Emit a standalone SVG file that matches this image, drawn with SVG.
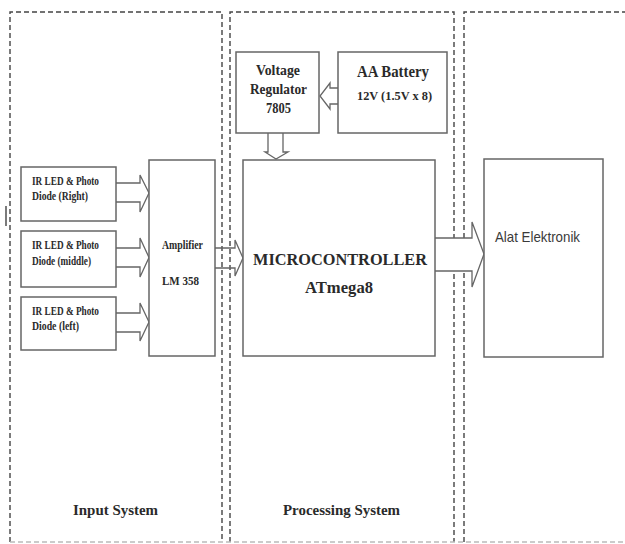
<svg xmlns="http://www.w3.org/2000/svg" width="625" height="544" viewBox="0 0 625 544">
<style>
.panel{fill:none;stroke:#444;stroke-width:1.4;stroke-dasharray:5 3}
.box{fill:#fff;stroke:#666;stroke-width:1.5}
.arr{fill:#fff;stroke:#666;stroke-width:1.3;stroke-linejoin:miter}
.t{font-family:"Liberation Serif","Times New Roman",serif;font-weight:bold;fill:#2a2a2a}
.s{font-family:"Liberation Sans",Arial,sans-serif;fill:#3a3a3a}
.ir{font-size:11.5px}
</style>
<rect width="625" height="544" fill="#fff"/>
<g id="panels">
<path class="panel" d="M10,542 V12 H222 V542"/>
<path class="panel" d="M230,542 V12 H454 V542"/>
<path class="panel" d="M464,542 V12 H625"/>
<path class="panel" d="M10,542 H625" style="stroke:#bbb"/>
<line x1="6" y1="206" x2="6" y2="226" stroke="#222" stroke-width="1.2"/>
</g>
<g id="connectors">
<path class="arr" d="M116,183 H140 V175 L149,193 L140,212 V202 H116"/>
<path class="arr" d="M116,248 H140 V238 L149,257.5 L140,277 V267 H116"/>
<path class="arr" d="M116,313 H140 V303 L149,322 L140,341 V332 H116"/>
<path class="arr" style="fill:none" d="M215,248 H235 V240 L243,258 L235,276 V268 H215"/>
<path class="arr" d="M435,238 H472 V222 L484,254 L472,287 V271 H435"/>
<path class="arr" d="M338,88 H330 V83 L320,96 L330,109 V104 H338"/>
<path class="arr" d="M268,133 V152 H265 L276,159 L288,152 H283 V133"/>
</g>
<g id="ir-right">
<rect class="box" x="21" y="167" width="95" height="54"/>
<text class="t ir" x="32" y="185" textLength="67" lengthAdjust="spacingAndGlyphs">IR LED &amp; Photo</text>
<text class="t ir" x="32" y="200" textLength="56" lengthAdjust="spacingAndGlyphs">Diode (Right)</text>
</g>
<g id="ir-middle">
<rect class="box" x="21" y="231" width="95" height="56"/>
<text class="t ir" x="32" y="249" textLength="67" lengthAdjust="spacingAndGlyphs">IR LED &amp; Photo</text>
<text class="t ir" x="32" y="265" textLength="59" lengthAdjust="spacingAndGlyphs">Diode (middle)</text>
</g>
<g id="ir-left">
<rect class="box" x="21" y="297" width="95" height="53"/>
<text class="t ir" x="32" y="315" textLength="67" lengthAdjust="spacingAndGlyphs">IR LED &amp; Photo</text>
<text class="t ir" x="32" y="330" textLength="47" lengthAdjust="spacingAndGlyphs">Diode (left)</text>
</g>
<g id="amplifier">
<rect class="box" x="149" y="160" width="66" height="196"/>
<text class="t" x="162" y="249" font-size="12" textLength="41" lengthAdjust="spacingAndGlyphs">Amplifier</text>
<text class="t" x="162" y="285" font-size="12" textLength="37" lengthAdjust="spacingAndGlyphs">LM 358</text>
</g>
<g id="regulator">
<rect class="box" x="236" y="52" width="83" height="81"/>
<text class="t" x="256" y="75" font-size="14" textLength="44" lengthAdjust="spacingAndGlyphs">Voltage</text>
<text class="t" x="250" y="94" font-size="14" textLength="57" lengthAdjust="spacingAndGlyphs">Regulator</text>
<text class="t" x="266" y="113" font-size="14" textLength="25" lengthAdjust="spacingAndGlyphs">7805</text>
</g>
<g id="battery">
<rect class="box" x="338" y="52" width="109" height="81"/>
<text class="t" x="357" y="77" font-size="16" textLength="72" lengthAdjust="spacingAndGlyphs">AA Battery</text>
<text class="t" x="357" y="100" font-size="13.5" textLength="75" lengthAdjust="spacingAndGlyphs">12V (1.5V x 8)</text>
</g>
<g id="microcontroller">
<rect class="box" x="243" y="160" width="192" height="196"/>
<text class="t" x="253" y="265" font-size="17" textLength="174" lengthAdjust="spacingAndGlyphs">MICROCONTROLLER</text>
<text class="t" x="305" y="293" font-size="17" textLength="68" lengthAdjust="spacingAndGlyphs">ATmega8</text>
</g>
<g id="alat">
<rect class="box" x="484" y="159" width="119" height="198"/>
<text class="s" x="495" y="242" font-size="15" textLength="85" lengthAdjust="spacingAndGlyphs">Alat Elektronik</text>
</g>
<g id="labels">
<text class="t" x="73" y="515" font-size="15.5" textLength="85" lengthAdjust="spacingAndGlyphs">Input System</text>
<text class="t" x="283" y="515" font-size="15.5" textLength="117" lengthAdjust="spacingAndGlyphs">Processing System</text>
</g>
</svg>
